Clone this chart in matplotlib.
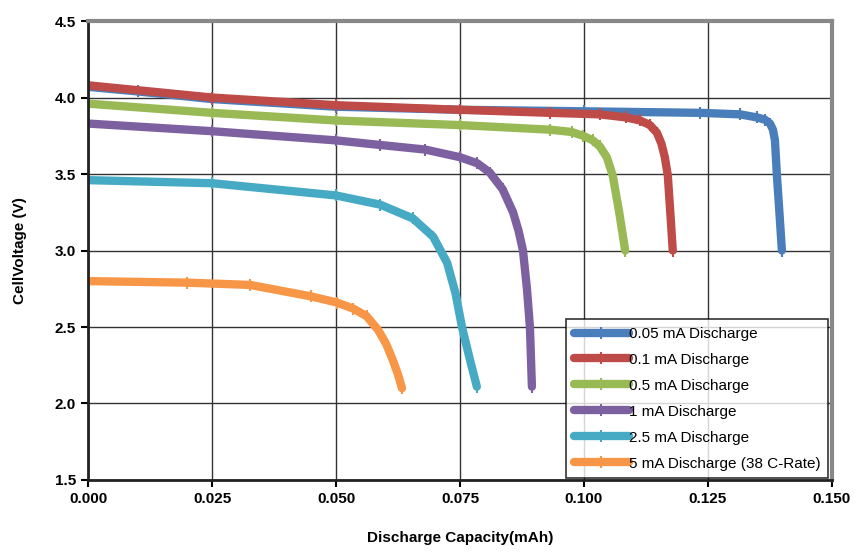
import matplotlib.pyplot as plt
import numpy as np

plt.rcParams['font.family'] = ['Liberation Sans', 'DejaVu Sans']

# discharge curves: capacity (mAh) vs voltage (V)
cap_005 = [0, 0.01, 0.025, 0.05, 0.075, 0.1, 0.1234, 0.1315, 0.1349, 0.1365, 0.1375,
           0.1381, 0.1385, 0.1389, 0.1394, 0.1399]
v_005 = [4.07, 4.04, 3.99, 3.94, 3.92, 3.91, 3.90, 3.89, 3.87, 3.855, 3.83,
         3.79, 3.72, 3.49, 3.25, 3.00]

cap_01 = [0, 0.025, 0.05, 0.075, 0.0931, 0.1032, 0.1085, 0.1113, 0.1133, 0.1147,
          0.1156, 0.1163, 0.1169, 0.1174, 0.1179]
v_01 = [4.08, 4.00, 3.95, 3.92, 3.90, 3.89, 3.87, 3.85, 3.82, 3.77,
        3.70, 3.61, 3.49, 3.25, 3.00]

cap_05 = [0, 0.025, 0.05, 0.075, 0.0931, 0.0975, 0.0998, 0.1018, 0.1032, 0.1046,
          0.1058, 0.1071, 0.1083]
v_05 = [3.96, 3.90, 3.85, 3.82, 3.79, 3.775, 3.75, 3.72, 3.68, 3.61,
        3.49, 3.25, 3.00]

cap_1 = [0, 0.025, 0.05, 0.0589, 0.068, 0.075, 0.0785, 0.081, 0.0836, 0.0857,
         0.0868, 0.0877, 0.0885, 0.0891, 0.0895]
v_1 = [3.83, 3.78, 3.72, 3.69, 3.66, 3.61, 3.57, 3.51, 3.40, 3.25,
       3.13, 3.00, 2.75, 2.50, 2.11]

cap_25 = [0, 0.025, 0.05, 0.0589, 0.0655, 0.0696, 0.0724, 0.0741, 0.0754, 0.0769,
          0.0784]
v_25 = [3.46, 3.44, 3.36, 3.30, 3.21, 3.09, 2.92, 2.72, 2.50, 2.30,
        2.11]

cap_5 = [0, 0.02, 0.0327, 0.045, 0.0502, 0.0535, 0.0562, 0.0585, 0.0601, 0.0615,
         0.0625, 0.0633]
v_5 = [2.80, 2.79, 2.775, 2.70, 2.66, 2.62, 2.57, 2.48, 2.39, 2.28,
       2.19, 2.10]

labels = ['0.05 mA Discharge', '0.1 mA Discharge', '0.5 mA Discharge',
          '1 mA Discharge', '2.5 mA Discharge', '5 mA Discharge (38 C-Rate)']
colors = ['#4a7ebb', '#be4b48', '#98b954', '#7d60a0', '#46aac5', '#f79646']
series = [(cap_005, v_005), (cap_01, v_01), (cap_05, v_05),
          (cap_1, v_1), (cap_25, v_25), (cap_5, v_5)]

fig = plt.figure(figsize=(8.68, 5.54), dpi=100)
ax = fig.add_axes([0.1014, 0.1336, 0.8571, 0.8284])

for (c, v), lab, col in zip(series, labels, colors):
    ax.plot(c, v, color=col, lw=6, label=lab, solid_capstyle='round',
            solid_joinstyle='round', marker='|', markersize=8, mew=1.5)

ax.set_xlim(0, 0.15)
ax.set_ylim(1.5, 4.5)
xt = np.arange(0, 0.151, 0.025)
yt = np.arange(1.5, 4.51, 0.5)
ax.set_xticks(xt)
ax.set_yticks(yt)
ax.set_xticklabels(['%.3f' % t for t in xt])
ax.set_yticklabels(['%.1f' % t for t in yt])
ax.grid(True, color='#333333', lw=1)
ax.set_axisbelow(True)

for s in ['top', 'right']:
    ax.spines[s].set_color('#888888')
    ax.spines[s].set_linewidth(3)
for s in ['left', 'bottom']:
    ax.spines[s].set_color('#222222')
    ax.spines[s].set_linewidth(2)

ax.tick_params(direction='out', length=5, width=1.5, labelsize=11)
for t in ax.get_xticklabels() + ax.get_yticklabels():
    t.set_fontweight('bold')

ax.set_xlabel('Discharge Capacity(mAh)', fontsize=11, fontweight='bold', labelpad=18)
ax.set_ylabel('CellVoltage (V)', fontsize=11, fontweight='bold', labelpad=20)

leg = ax.legend(loc='lower right', fontsize=11, frameon=True, fancybox=False,
                edgecolor='black', handlelength=3.6, handletextpad=0.0,
                borderpad=0.5, labelspacing=0.78, borderaxespad=0.0,
                bbox_to_anchor=(0.9946, 0.004))
leg.get_frame().set_linewidth(1.2)

fig.savefig('out.png', dpi=100)
